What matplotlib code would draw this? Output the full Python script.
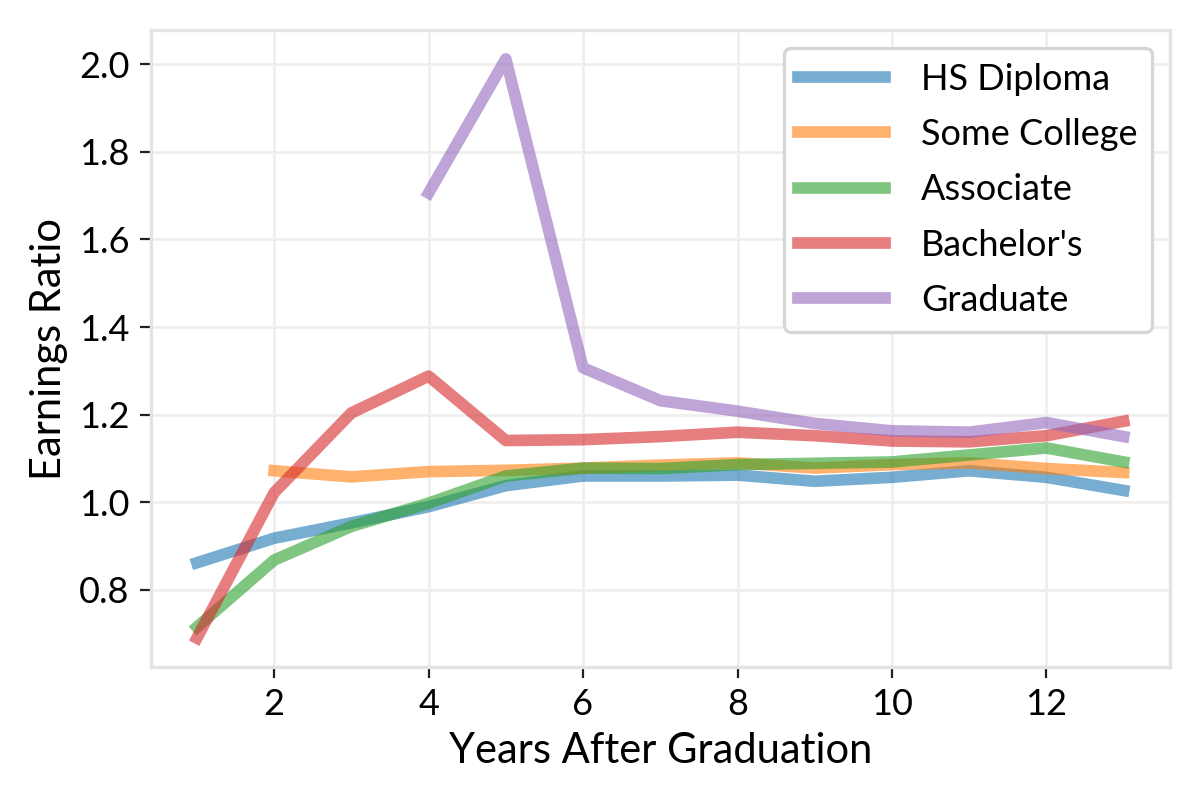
import matplotlib.pyplot as plt
import numpy as np

plt.rcParams["font.family"] = ["Lato", "DejaVu Sans"]

# -------------------------------
# Data
# -------------------------------
years = list(range(1, 14))

hs_diploma = [0.862, 0.918, 0.953, 0.990, 1.038, 1.060, 1.060, 1.062, 1.048, 1.057, 1.072, 1.057, 1.027]
some_college = [None, 1.072, 1.058, 1.070, 1.073, 1.078, 1.085, 1.090, 1.078, 1.086, 1.090, 1.077, 1.068]
associate = [0.715, 0.868, 0.945, 0.998, 1.060, 1.078, 1.077, 1.086, 1.089, 1.092, 1.108, 1.124, 1.092]
bachelors = [0.690, 1.022, 1.204, 1.288, 1.141, 1.143, 1.150, 1.160, 1.152, 1.140, 1.138, 1.152, 1.185]
graduate = [None, None, None, 1.706, 2.012, 1.307, 1.232, 1.208, 1.180, 1.163, 1.160, 1.182, 1.150]

series = {
    "HS Diploma": hs_diploma,
    "Some College": some_college,
    "Associate": associate,
    "Bachelor's": bachelors,
    "Graduate": graduate,
}
colors = ["#1f77b4", "#ff7f0e", "#2ca02c", "#d62728", "#9467bd"]

# -------------------------------
# Plot
# -------------------------------
fig, ax = plt.subplots(figsize=(6, 4), dpi=200)

for (name, vals), c in zip(series.items(), colors):
    y = np.array([np.nan if v is None else v for v in vals], dtype=float)
    ax.plot(years, y, label=name, color=c, linewidth=4.2, alpha=0.6)

ax.set_xlabel("Years After Graduation", fontsize=15)
ax.set_ylabel("Earnings Ratio", fontsize=15)
ax.tick_params(labelsize=13, color="#222222", length=4)
ax.grid(True, color="#efefef", linewidth=1)
ax.set_axisbelow(True)
for sp in ax.spines.values():
    sp.set_color("#e3e3e3")
    sp.set_linewidth(1.2)

leg = ax.legend(fontsize=13, loc="upper right", framealpha=1,
                handlelength=2.4, labelspacing=0.62, handletextpad=1.0)
leg.get_frame().set_edgecolor("#d6d6d6")
leg.get_frame().set_linewidth(1.2)

plt.tight_layout()
plt.savefig("out.png")
